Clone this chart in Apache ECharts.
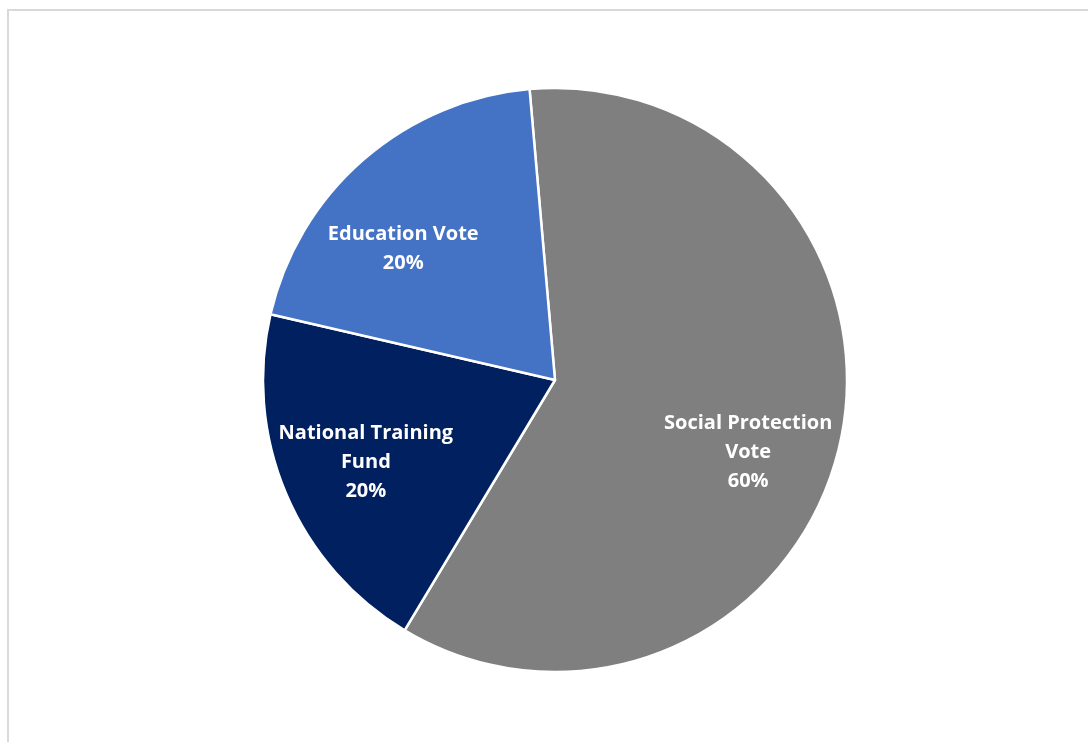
<!DOCTYPE html>
<html>
<head>
<meta charset="utf-8">
<script src="https://cdn.jsdelivr.net/npm/echarts@6/dist/echarts.min.js"></script>
<style>
  html, body { margin: 0; padding: 0; background: #ffffff; }
  #chart { width: 1088px; height: 742px; }
</style>
</head>
<body>
<div id="chart"></div>
<script>
// Funding split by source
const categories = ['Social Protection\nVote', 'National Training\nFund', 'Education Vote'];
const shares = [60, 20, 20];
const colors = ['#7f7f7f', '#002060', '#4472c4'];

// Nudges for each slice's label, away from the default mid-radius spot
const labelShift = [[48, 39], [-52, 24], [-54, -19]];

const chart = echarts.init(document.getElementById('chart'), null, { renderer: 'canvas' });

chart.setOption({
  backgroundColor: '#ffffff',
  animation: false,
  graphic: [{
    type: 'rect',
    shape: { x: 8, y: 10, width: 1200, height: 800 },
    style: { fill: 'none', stroke: '#d9d9d9', lineWidth: 2 },
    silent: true
  }],
  series: [{
    type: 'pie',
    center: [555, 380],
    radius: [0, 292],
    startAngle: 95,
    clockwise: true,
    data: categories.map((name, i) => ({
      name: name,
      value: shares[i],
      itemStyle: { color: colors[i] },
      label: { offset: labelShift[i] }
    })),
    itemStyle: { borderColor: '#ffffff', borderWidth: 2.5 },
    label: {
      show: true,
      position: 'inside',
      color: '#ffffff',
      fontFamily: '"Open Sans", Lato, sans-serif',
      fontWeight: 'bold',
      fontSize: 20,
      lineHeight: 29,
      align: 'center',
      formatter: p => p.name + '\n' + Math.round(p.percent) + '%'
    },
    labelLine: { show: false },
    emphasis: { disabled: true }
  }]
});
</script>
</body>
</html>
